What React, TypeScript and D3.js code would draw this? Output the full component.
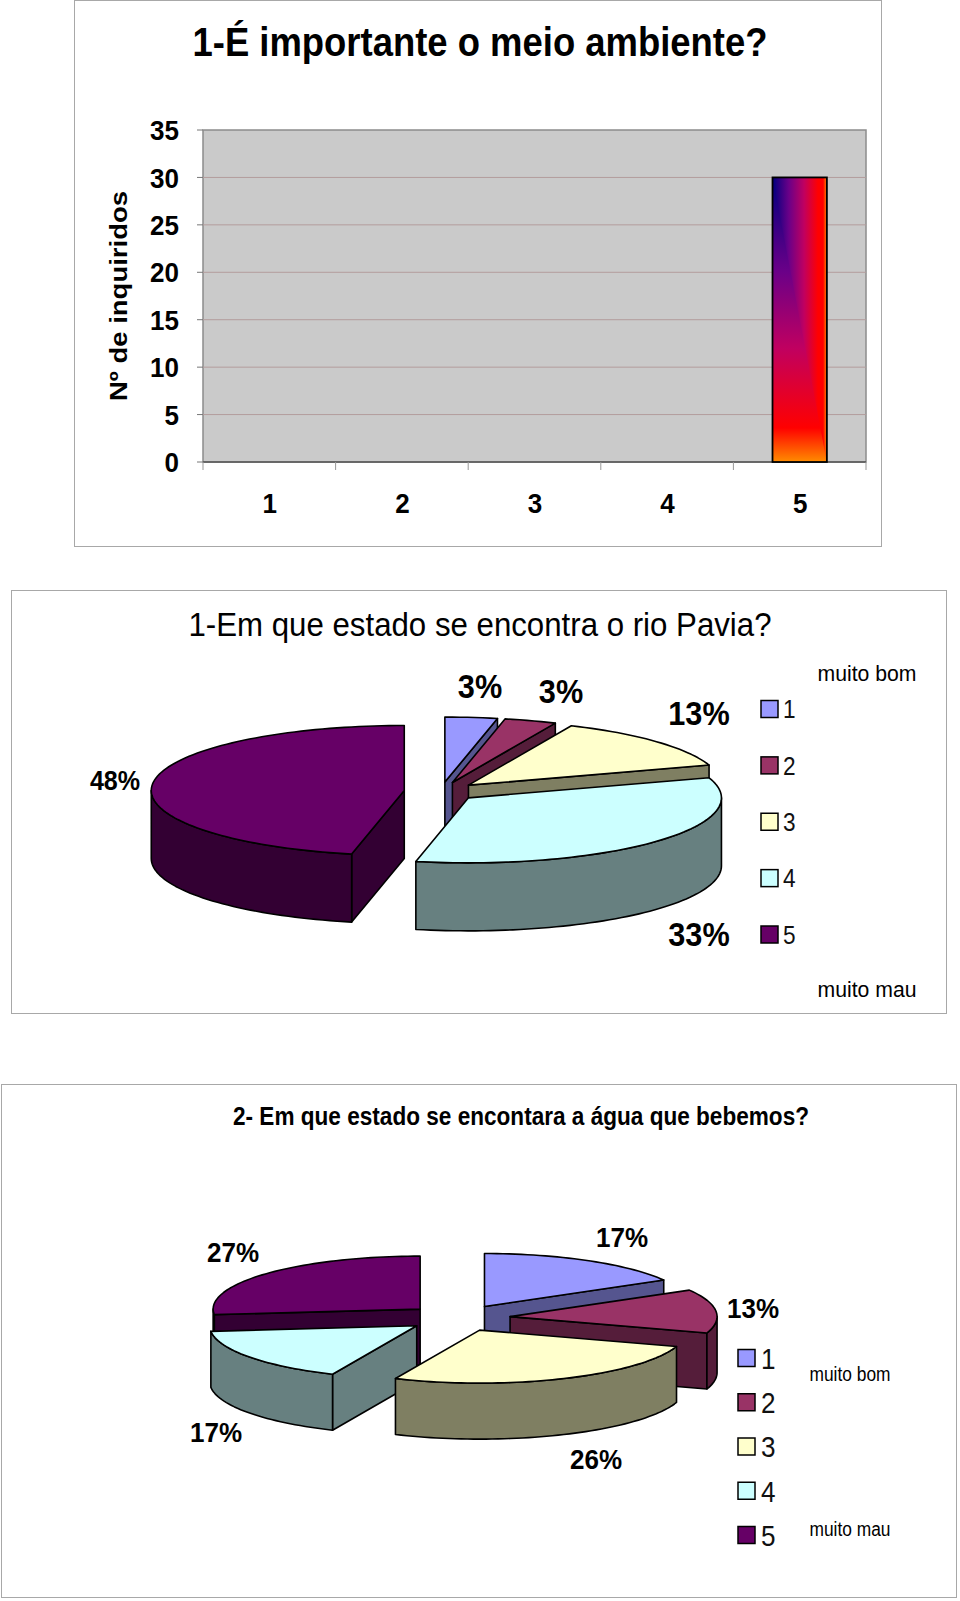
import React from "react";
import * as d3 from "d3";

const FONT = "'Liberation Sans', Arial, sans-serif";

// bar chart values
const barCategories = ["1", "2", "3", "4", "5"];
const barValues = [0, 0, 0, 0, 30];
const barTicks = [0, 5, 10, 15, 20, 25, 30, 35];

// pie slices: respondent counts, and the labels as printed on the chart
const legendItems = ["1", "2", "3", "4", "5"];
const rioCounts = [1, 1, 4, 10, 14];
const rioLabels = ["3%", "3%", "13%", "33%", "48%"];
const aguaCounts = [5, 4, 8, 5, 8];
const aguaLabels = ["17%", "13%", "26%", "17%", "27%"];

// label anchors, kept apart from the values
const rioLabelAt = [[480, 686, 33], [561, 691, 33], [699, 713, 33], [699, 934, 33], [115, 780, 27]];
const aguaLabelAt = [[622, 1237, 28], [753, 1308, 28], [596, 1459, 28], [216, 1432, 28], [233, 1252, 28]];

const sliceColors = ["#9999FF", "#993366", "#FFFFCC", "#CCFFFF", "#660066"];
const wallColors = ["#55558F", "#551D3A", "#7F7F62", "#678080", "#330033"];

const fireV = [[0, "#00007f"], [0.33, "#6a0088"], [0.6, "#c00060"], [0.88, "#ff0000"], [1, "#ff8c00"]];
const fireH = [[0, "#00007f"], [0.3, "#6a0088"], [0.58, "#c00060"], [0.84, "#ff0000"], [0.93, "#ff0000"], [1, "#ff8c00"]];

type PieProps = {
  counts: number[];
  cx: number;
  cy: number;
  rx: number;
  ry: number;
  depth: number;
  explode: number;
};

// the source image is stretched upright, so most text is narrowed a bit
function Txt({ x, y, sx = 0.93, children, ...rest }: any) {
  return (
    <text transform={`translate(${x},${y}) scale(${sx},1)`} dy=".36em" {...rest}>
      {children}
    </text>
  );
}

function Pie3D({ counts, cx, cy, rx, ry, depth, explode }: PieProps) {
  const slices = d3.pie<number>().sort(null)(counts);
  const line = d3.line();

  const drawn = slices
    .map((s, i) => {
      const mid = (s.startAngle + s.endAngle) / 2;
      const ox = cx + explode * rx * Math.sin(mid);
      const oy = cy - explode * ry * Math.cos(mid);
      return { s, i, ox, oy };
    })
    // far slices first so the near ones cover them
    .sort((a, b) => a.oy - b.oy);

  return (
    <g stroke="#000" strokeWidth={1.6} strokeLinejoin="round">
      {drawn.map(({ s, i, ox, oy }) => {
        const at = (a: number, dy = 0): [number, number] => [
          ox + rx * Math.sin(a),
          oy - ry * Math.cos(a) + dy,
        ];
        const arcPts = (a0: number, a1: number, dy = 0) => {
          const n = Math.max(2, Math.ceil(Math.abs(a1 - a0) / 0.03));
          return d3.range(n + 1).map((k) => at(a0 + ((a1 - a0) * k) / n, dy));
        };
        const apex: [number, number] = [ox, oy];
        const apexLow: [number, number] = [ox, oy + depth];
        const a0 = s.startAngle;
        const a1 = s.endAngle;

        const radial = (a: number) =>
          line([apex, at(a), at(a, depth), apexLow]) + "Z";

        const w0 = Math.max(a0, Math.PI / 2);
        const w1 = Math.min(a1, (3 * Math.PI) / 2);
        const wall =
          w1 > w0
            ? line([...arcPts(w0, w1), ...arcPts(w1, w0, depth)]) + "Z"
            : null;

        return (
          <g key={i}>
            {a0 > Math.PI && <path d={radial(a0)} fill={wallColors[i]} />}
            {a1 < Math.PI && <path d={radial(a1)} fill={wallColors[i]} />}
            {wall && <path d={wall} fill={wallColors[i]} />}
            <path
              d={line([apex, ...arcPts(a0, a1)]) + "Z"}
              fill={sliceColors[i]}
            />
          </g>
        );
      })}
    </g>
  );
}

function Legend({ x, top, bottom, size, labelX, fontSize }: any) {
  const y = d3.scalePoint<string>().domain(legendItems).range([top, bottom]);
  return (
    <g>
      {legendItems.map((d, i) => (
        <g key={d}>
          <rect
            x={x}
            y={y(d)! - size / 2}
            width={size}
            height={size}
            fill={sliceColors[i]}
            stroke="#000"
            strokeWidth={1.5}
          />
          <Txt x={labelX} y={y(d)} sx={0.87} fontSize={fontSize} fill="#111">
            {d}
          </Txt>
        </g>
      ))}
    </g>
  );
}

function BarChart() {
  const plot = { left: 203, right: 866, top: 130, bottom: 462 };
  const y = d3.scaleLinear().domain([0, 35]).range([plot.bottom, plot.top]);
  const x = d3.scaleBand().domain(barCategories).range([plot.left, plot.right]);
  const edges = [...barCategories.map((c) => x(c)!), plot.right];
  const barW = x.bandwidth() * 0.41;

  return (
    <g>
      <rect x={74.5} y={0.5} width={807} height={546} fill="#fff" stroke="#a8a8a8" />
      <text x={480} y={56} textAnchor="middle" fontSize={40} fontWeight="bold" textLength={575} lengthAdjust="spacingAndGlyphs">
        1-É importante o meio ambiente?
      </text>
      <rect x={plot.left} y={plot.top} width={plot.right - plot.left} height={plot.bottom - plot.top} fill="#CACACA" stroke="#8c8c8c" strokeWidth={1.5} />
      {barTicks.slice(1, -1).map((d) => (
        <line key={d} x1={plot.left} x2={plot.right} y1={y(d)} y2={y(d)} stroke="#b39c9c" strokeWidth={1} />
      ))}
      {barTicks.map((d) => (
        <g key={d}>
          <line x1={plot.left - 6} x2={plot.left} y1={y(d)} y2={y(d)} stroke="#777" />
          <Txt x={179} y={y(d)} textAnchor="end" fontSize={28} fontWeight="bold">
            {d}
          </Txt>
        </g>
      ))}
      <line x1={plot.left} x2={plot.right} y1={plot.bottom} y2={plot.bottom} stroke="#555" strokeWidth={1.5} />
      {edges.map((e) => (
        <line key={e} x1={e} x2={e} y1={plot.bottom} y2={plot.bottom + 8} stroke="#999" />
      ))}
      {barCategories.map((c) => (
        <Txt key={c} x={x(c)! + x.bandwidth() / 2 + 0.5} y={503} textAnchor="middle" fontSize={28} fontWeight="bold">
          {c}
        </Txt>
      ))}
      <text transform="translate(127,296) rotate(-90)" textAnchor="middle" fontSize={24} fontWeight="bold" textLength={210} lengthAdjust="spacingAndGlyphs">
        Nº de inquiridos
      </text>
      <defs>
        <linearGradient id="fireV" x1="0" y1="0" x2="0" y2="1">
          {fireV.map(([o, c]) => (
            <stop key={o} offset={o} stopColor={c as string} />
          ))}
        </linearGradient>
        <linearGradient id="fireH" x1="0" y1="0" x2="1" y2="0">
          {fireH.map(([o, c]) => (
            <stop key={o} offset={o} stopColor={c as string} />
          ))}
        </linearGradient>
      </defs>
      {barCategories.map((c, i) => {
        if (!barValues[i]) return null;
        const bx = x(c)! + (x.bandwidth() - barW) / 2;
        const by = y(barValues[i]);
        const bw = barW;
        const bh = plot.bottom - by;
        return (
          <g key={c}>
            <rect x={bx} y={by} width={bw} height={bh} fill="url(#fireV)" />
            <path d={`M${bx},${by}L${bx + bw},${by}L${bx + bw},${by + bh}Z`} fill="url(#fireH)" />
            <rect x={bx} y={by} width={bw} height={bh} fill="none" stroke="#000" strokeWidth={1.8} />
          </g>
        );
      })}
    </g>
  );
}

function RioChart() {
  return (
    <g>
      <rect x={11.5} y={590.5} width={935} height={423} fill="#fff" stroke="#a8a8a8" />
      <text x={480} y={636} textAnchor="middle" fontSize={34} textLength={583} lengthAdjust="spacingAndGlyphs">
        1-Em que estado se encontra o rio Pavia?
      </text>
      <Pie3D counts={rioCounts} cx={441} cy={791.5} rx={253} ry={65} depth={68} explode={0.146} />
      {rioLabels.map((t, i) => (
        <Txt key={i} x={rioLabelAt[i][0]} y={rioLabelAt[i][1]} textAnchor="middle" fontSize={rioLabelAt[i][2]} fontWeight="bold">
          {t}
        </Txt>
      ))}
      <Legend x={761} top={709} bottom={934.5} size={17} labelX={783} fontSize={26} />
      <text x={867} y={673} dy=".36em" textAnchor="middle" fontSize={22} textLength={99} lengthAdjust="spacingAndGlyphs">muito bom</text>
      <text x={867} y={989} dy=".36em" textAnchor="middle" fontSize={22} textLength={99} lengthAdjust="spacingAndGlyphs">muito mau</text>
    </g>
  );
}

function AguaChart() {
  return (
    <g>
      <rect x={1.5} y={1084.5} width={955} height={513} fill="#fff" stroke="#a8a8a8" />
      <text x={521} y={1125} textAnchor="middle" fontSize={26} fontWeight="bold" textLength={576} lengthAdjust="spacingAndGlyphs">
        2- Em que estado se encontara a água que bebemos?
      </text>
      <Pie3D counts={aguaCounts} cx={458.6} cy={1318} rx={207} ry={53} depth={56} explode={0.25} />
      {aguaLabels.map((t, i) => (
        <Txt key={i} x={aguaLabelAt[i][0]} y={aguaLabelAt[i][1]} textAnchor="middle" fontSize={aguaLabelAt[i][2]} fontWeight="bold">
          {t}
        </Txt>
      ))}
      <Legend x={738} top={1358} bottom={1535} size={17} labelX={761} fontSize={30} />
      <text x={850} y={1374} dy=".36em" textAnchor="middle" fontSize={20} textLength={81} lengthAdjust="spacingAndGlyphs">muito bom</text>
      <text x={850} y={1529} dy=".36em" textAnchor="middle" fontSize={20} textLength={81} lengthAdjust="spacingAndGlyphs">muito mau</text>
    </g>
  );
}

export default function App() {
  return (
    <svg
      width={960}
      height={1601}
      fontFamily={FONT}
      style={{ position: "absolute", left: 0, top: 0, display: "block", background: "#fff" }}
    >
      <BarChart />
      <RioChart />
      <AguaChart />
    </svg>
  );
}
